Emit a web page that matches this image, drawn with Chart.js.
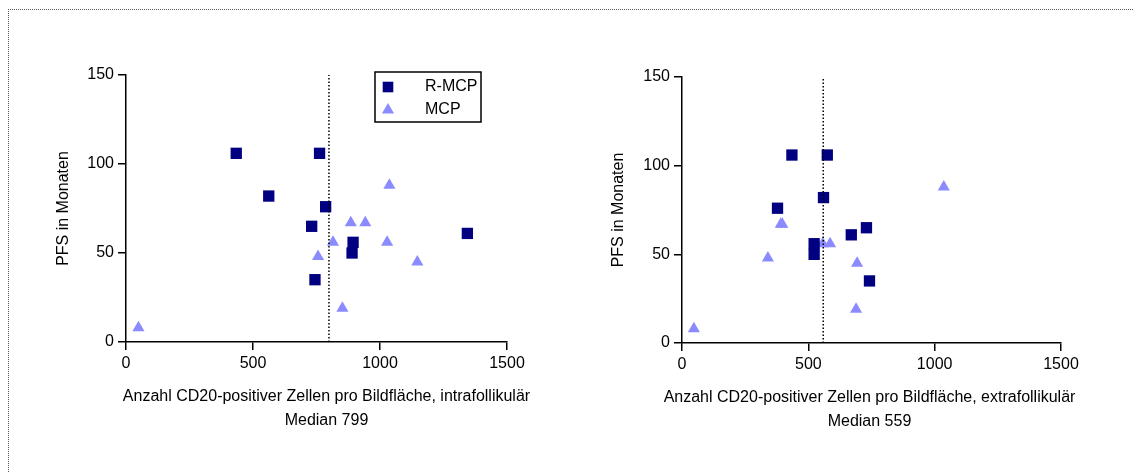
<!DOCTYPE html>
<html>
<head>
<meta charset="utf-8">
<script src="https://cdn.jsdelivr.net/npm/chart.js@4.4.1/dist/chart.umd.min.js"></script>
<style>
  html, body { margin: 0; padding: 0; background: #fff; }
  #wrap { position: relative; width: 1134px; height: 473px; overflow: hidden; }
  #frame { position: absolute; left: 8px; top: 9px; width: 1140px; height: 480px;
           border-top: 1px dotted #555; border-left: 1px dotted #555; }
  .box { position: absolute; top: 0; width: 567px; height: 473px; }
</style>
</head>
<body>
<div id="wrap">
  <div id="frame"></div>
  <div class="box" style="left:0"><canvas id="intra"></canvas></div>
  <div class="box" style="left:567px"><canvas id="extra"></canvas></div>
</div>
<script>
// PFS (months) per patient, same order in both panels
const rmcpPfs = [106, 106, 82, 76, 65, 56, 50, 35, 61];
const mcpPfs = [8, 88, 67, 67, 56, 56, 48, 45, 19];

// CD20+ cells per image field
const rmcpIntra = [434, 762, 562, 786, 731, 894, 890, 744, 1344];
const mcpIntra = [49, 1037, 885, 942, 815, 1028, 756, 1147, 852];
const rmcpExtra = [435, 575, 560, 378, 730, 523, 523, 742, 670];
const mcpExtra = [47, 1036, 391, 397, 557, 586, 340, 693, 689];

const medianIntra = 799;
const medianExtra = 559;

const xTicks = [0, 500, 1000, 1500];
const yTicks = [0, 50, 100, 150];

const NAVY = "#000080";
const LIGHT = "#8b8bff";
const FONT = "'Liberation Sans', Arial, sans-serif";
const FS = 16;

Chart.defaults.color = "#000";
Chart.defaults.font.family = FONT;
Chart.defaults.font.size = FS;

const pts = (xs, ys) => xs.map((x, i) => ({ x: x, y: ys[i] }));

// legend box + two-line x title, drawn by hand (the built-in title squeezes to axis width)
const extras = {
  id: "extras",
  afterDraw(chart, args, opts) {
    const ctx = chart.ctx;
    const ca = chart.chartArea;
    ctx.save();
    ctx.font = FS + "px " + FONT;
    ctx.textBaseline = "middle";
    ctx.fillStyle = "#000";
    ctx.textAlign = "center";
    const cx = (ca.left + ca.right) / 2 + opts.titleShift;
    opts.title.forEach((line, i) => ctx.fillText(line, cx, ca.bottom + 55 + i * 24));

    if (opts.legend) {
      ctx.textAlign = "left";
      const left = ca.left + 249, top = ca.top - 3;
      ctx.lineWidth = 1.5;
      ctx.strokeStyle = "#000";
      ctx.strokeRect(left, top, 106, 50);
      const rows = [
        { label: "R-MCP", style: "rect", color: NAVY, r: 7.5 },
        { label: "MCP", style: "triangle", color: LIGHT, r: 7 },
      ];
      rows.forEach((row, i) => {
        const y = top + 15 + i * 23;
        ctx.fillStyle = row.color;
        Chart.helpers.drawPoint(ctx, { pointStyle: row.style, radius: row.r, rotation: 0, borderWidth: 0 }, left + 13, y);
        ctx.fillStyle = "#000";
        ctx.fillText(row.label, left + 50, y);
      });
    }
    ctx.restore();
  },
};

function panel(id, rX, mX, median, title, lay) {
  return new Chart(id, {
    type: "scatter",
    data: {
      datasets: [
        {
          label: "R-MCP",
          data: pts(rX, rmcpPfs),
          pointStyle: "rect",
          pointRadius: 8,
          backgroundColor: NAVY,
          borderWidth: 0,
        },
        {
          label: "MCP",
          data: pts(mX, mcpPfs),
          pointStyle: "triangle",
          pointRadius: 7,
          backgroundColor: LIGHT,
          borderWidth: 0,
        },
        {
          label: "Median",
          type: "line",
          data: [{ x: median, y: yTicks[0] }, { x: median, y: yTicks[yTicks.length - 1] }],
          borderColor: "#000",
          borderWidth: 1.5,
          borderDash: [1.5, 2],
          pointRadius: 0,
          order: -1,
        },
      ],
    },
    options: {
      responsive: false,
      animation: false,
      layout: { padding: { left: lay.padLeft, top: lay.top, right: 567 - lay.right, bottom: 40 } },
      plugins: {
        legend: { display: false },
        tooltip: { enabled: false },
        extras: { legend: lay.legend, title: [title, "Median " + median], titleShift: lay.shift },
      },
      scales: {
        x: {
          type: "linear",
          min: xTicks[0],
          max: xTicks[xTicks.length - 1],
          afterBuildTicks: (s) => { s.ticks = xTicks.map((v) => ({ value: v })); },
          afterFit: (s) => { s.height = 433 - lay.bottom; },
          grid: { drawOnChartArea: false, drawTicks: true, tickLength: 8, color: "#000", lineWidth: 1.5 },
          border: { color: "#000", width: 1.5 },
          ticks: { padding: 4, callback: (v) => String(v) },
        },
        y: {
          type: "linear",
          min: yTicks[0],
          max: yTicks[yTicks.length - 1],
          afterBuildTicks: (s) => { s.ticks = yTicks.map((v) => ({ value: v })); },
          afterFit: (s) => { s.width = lay.left - lay.padLeft; },
          grid: { drawOnChartArea: false, drawTicks: true, tickLength: 8, color: "#000", lineWidth: 1.5 },
          border: { color: "#000", width: 1.5 },
          ticks: { padding: 4, callback: (v) => String(v) },
          title: { display: true, text: "PFS in Monaten", padding: 0 },
        },
      },
    },
    plugins: [extras],
  });
}

for (const c of document.querySelectorAll("canvas")) { c.width = 567; c.height = 473; }

panel("intra", rmcpIntra, mcpIntra, medianIntra,
  "Anzahl CD20-positiver Zellen pro Bildfläche, intrafollikulär",
  { left: 126, right: 507, top: 75, bottom: 342, padLeft: 54, legend: true, shift: 10 });
panel("extra", rmcpExtra, mcpExtra, medianExtra,
  "Anzahl CD20-positiver Zellen pro Bildfläche, extrafollikulär",
  { left: 115, right: 494, top: 77, bottom: 343, padLeft: 42, legend: false, shift: -2 });
</script>
</body>
</html>
